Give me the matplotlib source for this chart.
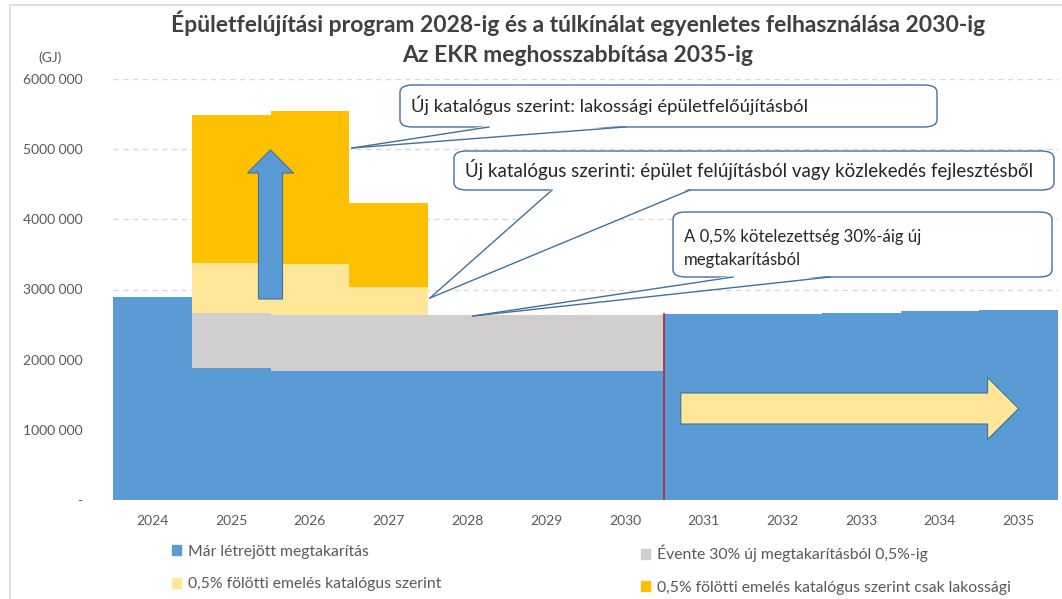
import matplotlib
matplotlib.use("Agg")
import matplotlib.pyplot as plt
from matplotlib.patches import FancyArrow, FancyBboxPatch, Polygon, Patch, Rectangle
from matplotlib.lines import Line2D
from matplotlib import font_manager

# adatok (GJ)
years = [2024, 2025, 2026, 2027, 2028, 2029, 2030, 2031, 2032, 2033, 2034, 2035]
mar_letrejott = [2890000, 1875000, 1840000, 1840000, 1840000, 1840000, 1840000,
                 2655000, 2655000, 2670000, 2690000, 2710000]
evente_30 = [0, 795000, 800000, 800000, 800000, 800000, 800000, 0, 0, 0, 0, 0]
katalogus = [0, 710000, 720000, 390000, 0, 0, 0, 0, 0, 0, 0, 0]
katalogus_lakossagi = [0, 2100000, 2180000, 1205000, 0, 0, 0, 0, 0, 0, 0, 0]

yticks = [0, 1000000, 2000000, 3000000, 4000000, 5000000, 6000000]
ytick_labels = ['-', '1000 000', '2000 000', '3000 000', '4000 000', '5000 000', '6000 000']

legend_labels = ['Már létrejött megtakarítás',
                 'Évente 30% új megtakarításból 0,5%-ig',
                 '0,5% fölötti emelés katalógus szerint',
                 '0,5% fölötti emelés katalógus szerint csak lakossági']

c_blue = '#5B9BD5'
c_grey = '#D0CECE'
c_lyellow = '#FFE699'
c_orange = '#FFC000'
c_text = '#595959'
c_edge = '#41719C'

# betűtípus: keskeny, Calibri-szerű
names = {f.name for f in font_manager.fontManager.ttflist}
fam = 'Liberation Sans Narrow' if 'Liberation Sans Narrow' in names else 'Lato'
plt.rcParams['font.family'] = [fam, 'DejaVu Sans']

W, H = 1062, 599
fig = plt.figure(figsize=(W / 100, H / 100), dpi=100)


def fx(x, y):
    return (x / W, 1 - y / H)


# külső keret
fig.patches.append(Rectangle(fx(10, 605), 1.2, (605 - 5) / H, transform=fig.transFigure,
                             fill=False, edgecolor='#D9D9D9', lw=1.2))

ax = fig.add_axes([113 / W, 1 - 500 / H, (1058 - 113) / W, (500 - 79) / H])

bottom = [0] * len(years)
for vals, col in [(mar_letrejott, c_blue), (evente_30, c_grey),
                  (katalogus, c_lyellow), (katalogus_lakossagi, c_orange)]:
    ax.bar(years, vals, width=1.0, bottom=bottom, color=col, linewidth=0, zorder=2)
    bottom = [b + v for b, v in zip(bottom, vals)]

ax.set_xlim(years[0] - 0.5, years[-1] + 0.5)
ax.set_ylim(0, 6000000)
ax.set_yticks(yticks)
ax.set_yticklabels(ytick_labels)
ax.set_xticks(years)
ax.set_xticklabels([str(y) for y in years])
ax.tick_params(axis='y', length=0, pad=22, labelsize=10, labelcolor=c_text)
ax.tick_params(axis='x', length=0, pad=11, labelsize=10, labelcolor=c_text)
ax.yaxis.grid(True, linestyle=(0, (4, 3)), color='#D9D9D9', lw=1)
ax.set_axisbelow(True)
for s in ax.spines.values():
    s.set_visible(False)

# piros választóvonal 2030 után
ax.plot([2030.5, 2030.5], [0, mar_letrejott[7]], color='#B03040', lw=1.3, zorder=4)

# nyilak
ax.add_patch(FancyArrow(2025.5, 2865000, 0, 2125000, width=0.305, head_width=0.584,
                        head_length=330000, length_includes_head=True,
                        facecolor=c_blue, edgecolor=c_edge, lw=0.8, zorder=5))
# vízszintes nyíl: a szélesség y-egységben, a hossz x-egységben
ax.add_patch(Polygon([(2030.71, 1304000 - 221000), (2034.606, 1304000 - 221000),
                      (2034.606, 1304000 - 442000), (2035.0, 1304000),
                      (2034.606, 1304000 + 442000), (2034.606, 1304000 + 221000),
                      (2030.71, 1304000 + 221000)], closed=True,
                     facecolor=c_lyellow, edgecolor=c_edge, lw=0.8, zorder=5))


# szövegbuborékok
def callout(x0, y0, x1, y1, b1, b2, tip, lines, ys, size):
    box = FancyBboxPatch(fx(x0, y1), (x1 - x0) / W, (y1 - y0) / H,
                         boxstyle='round,pad=0,rounding_size=0.012',
                         transform=fig.transFigure, facecolor='white',
                         edgecolor=c_edge, lw=1.0, zorder=10)
    fig.patches.append(box)
    fig.patches.append(Polygon([fx(b1, y1 - 1.5), fx(b2, y1 - 1.5), fx(*tip)], closed=True,
                               transform=fig.transFigure, facecolor='white',
                               edgecolor='none', zorder=11))
    for b in (b1, b2):
        fig.add_artist(Line2D([b / W, tip[0] / W], [1 - y1 / H, 1 - tip[1] / H],
                              transform=fig.transFigure, color=c_edge, lw=1.0, zorder=12))
    for t, yy in zip(lines, ys):
        fig.text(*fx(x0 + 11, yy), t, ha='left', va='center', fontsize=size,
                 color='#262626', zorder=13)


callout(400, 85, 937, 127, 489, 625, (352, 148),
        ['Új katalógus szerint: lakossági épületfelőújításból'], [105], 13.3)
callout(454, 151, 1054, 190, 552, 690, (430, 298),
        ['Új katalógus szerinti: épület felújításból vagy közlekedés fejlesztésből'], [170], 13.5)
callout(673, 212, 1052, 277, 733, 830, (473, 316),
        ['A 0,5% kötelezettség 30%-áig új', 'megtakarításból'], [237, 260], 12.1)

# címek
fig.text(*fx(578, 23), 'Épületfelújítási program 2028-ig és a túlkínálat egyenletes felhasználása 2030-ig',
         ha='center', va='center', fontsize=16.5, fontweight='bold', color='#404040')
fig.text(*fx(578, 56), 'Az EKR meghosszabbítása 2035-ig',
         ha='center', va='center', fontsize=16.5, fontweight='bold', color='#404040')
fig.text(*fx(50, 58), '(GJ)', ha='center', va='center', fontsize=10, color=c_text)

# jelmagyarázat két oszlopban
h = [Patch(color=c) for c in (c_blue, c_grey, c_lyellow, c_orange)]
leg_kw = dict(frameon=False, fontsize=11.3, labelcolor=c_text, handlelength=0.6,
              handleheight=0.6, handletextpad=0.4, labelspacing=1.17, borderpad=0,
              loc='upper left')
fig.legend([h[0], h[2]], [legend_labels[0], legend_labels[2]],
           bbox_to_anchor=fx(164, 537), **leg_kw)
fig.legend([h[1], h[3]], [legend_labels[1], legend_labels[3]],
           bbox_to_anchor=fx(633, 537), **leg_kw)

fig.savefig('out.png', dpi=100)
